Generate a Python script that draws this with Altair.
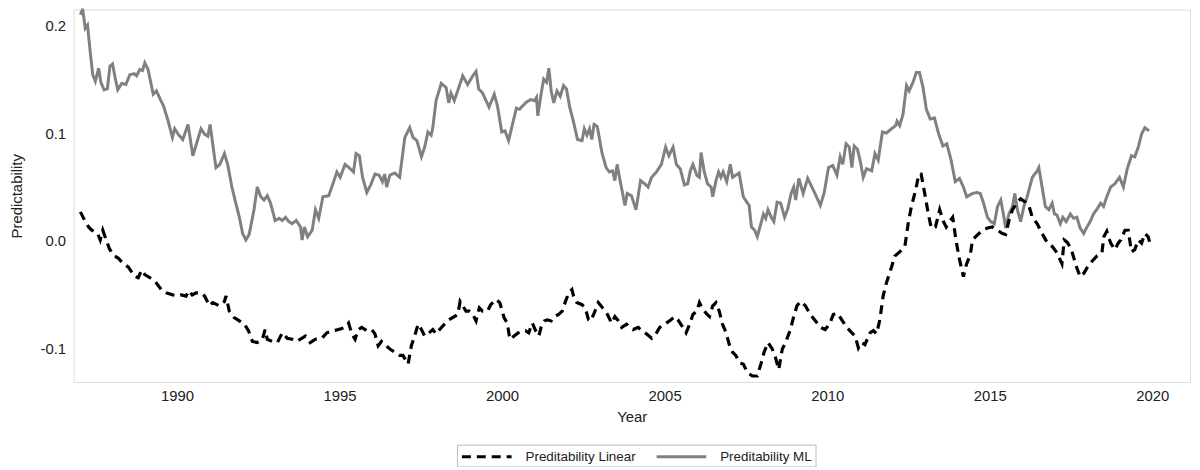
import altair as alt
import pandas as pd

# ---- data ----
ml_year = [1987.03, 1987.10, 1987.18, 1987.25, 1987.33, 1987.41, 1987.49, 1987.59, 1987.66, 1987.76,
           1987.86, 1987.94, 1988.02, 1988.10, 1988.18, 1988.30, 1988.43, 1988.55, 1988.68, 1988.76,
           1988.86, 1988.94, 1989.01, 1989.11, 1989.27, 1989.37, 1989.49, 1989.59, 1989.73, 1989.86,
           1989.93, 1990.06, 1990.18, 1990.34, 1990.49, 1990.64, 1990.74, 1990.85, 1990.95, 1991.02,
           1991.10, 1991.20, 1991.32, 1991.46, 1991.56, 1991.69, 1991.81, 1991.92, 1992.02, 1992.12,
           1992.22, 1992.37, 1992.47, 1992.58, 1992.68, 1992.78, 1992.88, 1993.02, 1993.14, 1993.24,
           1993.34, 1993.44, 1993.54, 1993.67, 1993.80, 1993.85, 1993.92, 1994.02, 1994.16, 1994.26,
           1994.36, 1994.49, 1994.67, 1994.82, 1994.92, 1995.02, 1995.17, 1995.33, 1995.43, 1995.51,
           1995.61, 1995.71, 1995.84, 1995.96, 1996.09, 1996.22, 1996.32, 1996.39, 1996.45, 1996.55,
           1996.70, 1996.85, 1997.01, 1997.16, 1997.26, 1997.38, 1997.52, 1997.62, 1997.72, 1997.82,
           1997.87, 1997.97, 1998.13, 1998.28, 1998.36, 1998.43, 1998.53, 1998.69, 1998.79, 1998.94,
           1999.10, 1999.20, 1999.28, 1999.40, 1999.60, 1999.76, 1999.86, 1999.99, 2000.09, 2000.20,
           2000.32, 2000.44, 2000.54, 2000.72, 2000.88, 2001.00, 2001.06, 2001.10, 2001.20, 2001.28,
           2001.37, 2001.44, 2001.51, 2001.59, 2001.69, 2001.79, 2001.89, 2001.98, 2002.08, 2002.20,
           2002.32, 2002.46, 2002.53, 2002.61, 2002.69, 2002.76, 2002.83, 2002.93, 2003.07, 2003.20,
           2003.30, 2003.40, 2003.47, 2003.54, 2003.63, 2003.78, 2003.85, 2003.98, 2004.12, 2004.26,
           2004.39, 2004.49, 2004.60, 2004.75, 2004.90, 2005.03, 2005.13, 2005.26, 2005.36, 2005.48,
           2005.61, 2005.71, 2005.79, 2005.87, 2005.99, 2006.07, 2006.12, 2006.22, 2006.32, 2006.43,
           2006.48, 2006.58, 2006.66, 2006.73, 2006.80, 2006.91, 2007.02, 2007.09, 2007.19, 2007.29,
           2007.42, 2007.55, 2007.60, 2007.67, 2007.77, 2007.85, 2007.96, 2008.04, 2008.11, 2008.18,
           2008.28, 2008.36, 2008.46, 2008.57, 2008.69, 2008.79, 2008.89, 2008.97, 2009.03, 2009.13,
           2009.26, 2009.40, 2009.53, 2009.67, 2009.79, 2009.91, 2010.04, 2010.17, 2010.30, 2010.40,
           2010.48, 2010.58, 2010.68, 2010.76, 2010.83, 2010.93, 2011.01, 2011.11, 2011.21, 2011.37,
           2011.47, 2011.57, 2011.70, 2011.82, 2011.98, 2012.11, 2012.15, 2012.23, 2012.33, 2012.44,
           2012.52, 2012.64, 2012.74, 2012.84, 2012.95, 2013.05, 2013.17, 2013.30, 2013.43, 2013.56,
           2013.68, 2013.81, 2013.94, 2014.07, 2014.19, 2014.29, 2014.47, 2014.60, 2014.71, 2014.81,
           2014.93, 2015.03, 2015.14, 2015.24, 2015.34, 2015.42, 2015.49, 2015.59, 2015.70, 2015.77,
           2015.85, 2015.95, 2016.05, 2016.15, 2016.31, 2016.46, 2016.51, 2016.61, 2016.71, 2016.82,
           2016.92, 2016.99, 2017.07, 2017.17, 2017.25, 2017.35, 2017.48, 2017.58, 2017.68, 2017.78,
           2017.89, 2017.99, 2018.09, 2018.19, 2018.31, 2018.41, 2018.50, 2018.60, 2018.72, 2018.85,
           2018.99, 2019.11, 2019.23, 2019.36, 2019.46, 2019.57, 2019.67, 2019.77, 2019.90]
ml_value = [0.2095, 0.215, 0.197, 0.200, 0.176, 0.154, 0.148, 0.160, 0.147, 0.140,
            0.141, 0.162, 0.164, 0.151, 0.140, 0.146, 0.145, 0.154, 0.155, 0.153,
            0.159, 0.158, 0.165, 0.159, 0.136, 0.139, 0.131, 0.125, 0.111, 0.096,
            0.104, 0.098, 0.094, 0.108, 0.079, 0.094, 0.104, 0.099, 0.097, 0.108,
            0.090, 0.068, 0.071, 0.081, 0.071, 0.050, 0.035, 0.022, 0.007, 0.001,
            0.006, 0.029, 0.050, 0.041, 0.038, 0.042, 0.035, 0.019, 0.021, 0.019,
            0.022, 0.018, 0.016, 0.019, 0.013, 0.001, 0.013, 0.004, 0.010, 0.029,
            0.021, 0.041, 0.042, 0.055, 0.064, 0.059, 0.071, 0.067, 0.064, 0.081,
            0.079, 0.059, 0.045, 0.052, 0.062, 0.061, 0.055, 0.062, 0.050, 0.061,
            0.063, 0.059, 0.096, 0.105, 0.096, 0.093, 0.078, 0.087, 0.101, 0.098,
            0.105, 0.130, 0.146, 0.142, 0.128, 0.137, 0.130, 0.144, 0.153, 0.145,
            0.153, 0.157, 0.141, 0.137, 0.124, 0.136, 0.125, 0.101, 0.102, 0.093,
            0.108, 0.123, 0.122, 0.128, 0.131, 0.130, 0.133, 0.116, 0.136, 0.150,
            0.147, 0.160, 0.139, 0.128, 0.139, 0.134, 0.144, 0.141, 0.124, 0.110,
            0.094, 0.093, 0.104, 0.098, 0.104, 0.094, 0.108, 0.106, 0.082, 0.068,
            0.064, 0.065, 0.056, 0.071, 0.056, 0.033, 0.044, 0.042, 0.029, 0.056,
            0.053, 0.050, 0.059, 0.064, 0.071, 0.087, 0.079, 0.087, 0.071, 0.067,
            0.052, 0.053, 0.065, 0.071, 0.061, 0.059, 0.082, 0.064, 0.053, 0.050,
            0.041, 0.056, 0.064, 0.059, 0.064, 0.055, 0.071, 0.059, 0.061, 0.063,
            0.041, 0.035, 0.033, 0.013, 0.010, 0.004, 0.016, 0.025, 0.021, 0.029,
            0.022, 0.018, 0.036, 0.035, 0.022, 0.030, 0.044, 0.050, 0.038, 0.058,
            0.044, 0.058, 0.050, 0.041, 0.033, 0.045, 0.068, 0.070, 0.061, 0.078,
            0.071, 0.090, 0.087, 0.068, 0.088, 0.085, 0.075, 0.059, 0.067, 0.065,
            0.081, 0.075, 0.101, 0.100, 0.104, 0.107, 0.111, 0.107, 0.117, 0.144,
            0.139, 0.147, 0.156, 0.156, 0.142, 0.122, 0.113, 0.114, 0.099, 0.088,
            0.090, 0.075, 0.055, 0.058, 0.050, 0.041, 0.044, 0.045, 0.044, 0.035,
            0.022, 0.018, 0.016, 0.032, 0.038, 0.025, 0.012, 0.025, 0.032, 0.044,
            0.029, 0.018, 0.032, 0.041, 0.059, 0.065, 0.068, 0.050, 0.032, 0.029,
            0.035, 0.025, 0.024, 0.016, 0.022, 0.018, 0.025, 0.021, 0.022, 0.012,
            0.007, 0.013, 0.018, 0.025, 0.030, 0.035, 0.032, 0.041, 0.050, 0.053,
            0.059, 0.050, 0.067, 0.079, 0.078, 0.087, 0.099, 0.105, 0.102]

lin_year = [1987.03, 1987.13, 1987.28, 1987.38, 1987.56, 1987.64, 1987.72, 1987.79, 1987.92, 1988.04,
            1988.20, 1988.35, 1988.50, 1988.71, 1988.81, 1988.91, 1989.01, 1989.17, 1989.32, 1989.52,
            1989.67, 1989.88, 1990.03, 1990.13, 1990.28, 1990.37, 1990.47, 1990.59, 1990.74, 1990.85,
            1991.00, 1991.10, 1991.30, 1991.46, 1991.51, 1991.61, 1991.76, 1991.92, 1992.07, 1992.20,
            1992.32, 1992.47, 1992.63, 1992.71, 1992.78, 1992.93, 1993.09, 1993.24, 1993.39, 1993.54,
            1993.67, 1993.85, 1993.95, 1994.10, 1994.26, 1994.46, 1994.61, 1994.82, 1994.97, 1995.17,
            1995.28, 1995.38, 1995.48, 1995.58, 1995.68, 1995.84, 1995.99, 1996.09, 1996.19, 1996.29,
            1996.43, 1996.55, 1996.70, 1996.85, 1996.95, 1997.11, 1997.21, 1997.31, 1997.42, 1997.52,
            1997.62, 1997.72, 1997.87, 1997.97, 1998.08, 1998.23, 1998.36, 1998.48, 1998.64, 1998.71,
            1998.79, 1998.89, 1998.99, 1999.10, 1999.20, 1999.30, 1999.40, 1999.55, 1999.65, 1999.81,
            1999.93, 2000.06, 2000.16, 2000.24, 2000.37, 2000.50, 2000.72, 2000.82, 2000.93, 2001.03,
            2001.13, 2001.20, 2001.30, 2001.39, 2001.51, 2001.61, 2001.74, 2001.85, 2001.95, 2002.05,
            2002.15, 2002.20, 2002.30, 2002.46, 2002.56, 2002.66, 2002.73, 2002.83, 2002.96, 2003.12,
            2003.24, 2003.37, 2003.47, 2003.58, 2003.68, 2003.83, 2004.03, 2004.19, 2004.29, 2004.44,
            2004.60, 2004.75, 2004.85, 2005.00, 2005.15, 2005.31, 2005.41, 2005.56, 2005.66, 2005.77,
            2005.87, 2005.99, 2006.07, 2006.17, 2006.28, 2006.38, 2006.48, 2006.58, 2006.68, 2006.78,
            2006.89, 2006.99, 2007.09, 2007.19, 2007.31, 2007.42, 2007.55, 2007.70, 2007.85, 2007.96,
            2008.06, 2008.18, 2008.31, 2008.41, 2008.51, 2008.62, 2008.72, 2008.87, 2008.97, 2009.07,
            2009.18, 2009.33, 2009.48, 2009.64, 2009.79, 2009.94, 2010.07, 2010.19, 2010.32, 2010.45,
            2010.60, 2010.76, 2010.86, 2010.96, 2011.06, 2011.16, 2011.32, 2011.42, 2011.52, 2011.62,
            2011.72, 2011.82, 2011.98, 2012.08, 2012.23, 2012.39, 2012.49, 2012.59, 2012.72, 2012.82,
            2012.89, 2013.00, 2013.10, 2013.20, 2013.33, 2013.46, 2013.56, 2013.66, 2013.76, 2013.86,
            2013.96, 2014.07, 2014.19, 2014.29, 2014.40, 2014.47, 2014.63, 2014.78, 2014.93, 2015.08,
            2015.24, 2015.39, 2015.49, 2015.59, 2015.70, 2015.85, 2015.95, 2016.10, 2016.21, 2016.31,
            2016.46, 2016.61, 2016.76, 2016.92, 2017.07, 2017.22, 2017.29, 2017.38, 2017.50, 2017.60,
            2017.68, 2017.78, 2017.89, 2018.01, 2018.14, 2018.29, 2018.45, 2018.51, 2018.60, 2018.72,
            2018.85, 2018.95, 2019.03, 2019.16, 2019.26, 2019.36, 2019.46, 2019.57, 2019.67, 2019.77,
            2019.87, 2019.92]
lin_value = [0.027, 0.021, 0.013, 0.010, 0.007, 0.001, 0.010, 0.004, -0.007, -0.013,
             -0.016, -0.021, -0.024, -0.033, -0.034, -0.027, -0.031, -0.034, -0.037, -0.045,
             -0.048, -0.050, -0.051, -0.050, -0.051, -0.046, -0.050, -0.048, -0.048, -0.051,
             -0.060, -0.057, -0.060, -0.056, -0.051, -0.065, -0.071, -0.074, -0.077, -0.083,
             -0.093, -0.094, -0.091, -0.082, -0.091, -0.093, -0.094, -0.085, -0.090, -0.091,
             -0.093, -0.090, -0.088, -0.094, -0.091, -0.090, -0.085, -0.083, -0.082, -0.080,
             -0.076, -0.086, -0.091, -0.082, -0.080, -0.083, -0.082, -0.086, -0.097, -0.093,
             -0.097, -0.100, -0.103, -0.106, -0.106, -0.114, -0.097, -0.088, -0.077, -0.082,
             -0.088, -0.086, -0.082, -0.086, -0.082, -0.077, -0.073, -0.071, -0.068, -0.056,
             -0.060, -0.065, -0.065, -0.068, -0.074, -0.062, -0.065, -0.065, -0.059, -0.054,
             -0.057, -0.071, -0.076, -0.091, -0.088, -0.085, -0.083, -0.085, -0.076, -0.083,
             -0.088, -0.080, -0.074, -0.073, -0.074, -0.070, -0.068, -0.065, -0.056, -0.048,
             -0.045, -0.051, -0.057, -0.059, -0.062, -0.073, -0.074, -0.067, -0.057, -0.063,
             -0.068, -0.076, -0.070, -0.074, -0.080, -0.077, -0.082, -0.080, -0.083, -0.086,
             -0.090, -0.085, -0.080, -0.077, -0.074, -0.070, -0.073, -0.080, -0.085, -0.077,
             -0.068, -0.065, -0.057, -0.063, -0.067, -0.070, -0.060, -0.057, -0.065, -0.077,
             -0.085, -0.096, -0.103, -0.106, -0.113, -0.114, -0.122, -0.125, -0.125, -0.114,
             -0.103, -0.094, -0.100, -0.108, -0.119, -0.100, -0.094, -0.082, -0.070, -0.060,
             -0.056, -0.060, -0.068, -0.074, -0.080, -0.082, -0.077, -0.068, -0.067, -0.073,
             -0.080, -0.085, -0.088, -0.099, -0.094, -0.096, -0.085, -0.083, -0.086, -0.073,
             -0.051, -0.039, -0.024, -0.014, -0.010, -0.005, 0.016, 0.032, 0.047, 0.062,
             0.062, 0.044, 0.027, 0.012, 0.013, 0.029, 0.019, 0.013, 0.018, 0.022,
             0.001, -0.017, -0.033, -0.021, -0.013, 0.001, 0.006, 0.010, 0.012, 0.013,
             0.010, 0.007, 0.006, 0.019, 0.029, 0.036, 0.039, 0.036, 0.032, 0.022,
             0.016, 0.007, -0.001, -0.005, -0.011, -0.021, 0.001, -0.001, -0.007, -0.017,
             -0.025, -0.033, -0.030, -0.024, -0.019, -0.014, -0.011, 0.004, 0.009, -0.002,
             -0.008, -0.002, 0.001, 0.010, 0.010, -0.010, -0.008, 0.001, -0.002, 0.007,
             0.004, -0.001]

series_names = ["Preditability Linear", "Preditability ML"]
series_colors = ["#000000", "#808080"]
series_dashes = [[9, 6], [1, 0]]
x_ticks = [1990, 1995, 2000, 2005, 2010, 2015, 2020]
y_ticks = [-0.1, 0.0, 0.1, 0.2]

df_ml = pd.DataFrame({"year": ml_year, "value": ml_value, "series": series_names[1]})
df_lin = pd.DataFrame({"year": lin_year, "value": lin_value, "series": series_names[0]})

FONT = "Liberation Sans"

x_enc = alt.X(
    "year:Q",
    scale=alt.Scale(domain=[1986.82, 2021.16], nice=False, zero=False),
    axis=alt.Axis(values=x_ticks, format="d", title="Year", grid=False, ticks=False,
                  tickSize=0, domain=False, labelPadding=7, titlePadding=6,
                  labelFontSize=15, titleFontSize=15, titleFontWeight="normal",
                  labelColor="#222222", titleColor="#222222", labelFont=FONT, titleFont=FONT),
)
y_enc = alt.Y(
    "value:Q",
    scale=alt.Scale(domain=[-0.1306, 0.2144], nice=False, zero=False),
    axis=alt.Axis(values=y_ticks, labelExpr="replace(format(datum.value, '.1f'), '\u2212', '-')",
                  title="Predictability", grid=False, ticks=False, tickSize=0, domain=False,
                  labelPadding=8, labelFontSize=15, titleFontSize=15, titleFontWeight="normal",
                  titleX=-57, titleBaseline="middle",
                  labelColor="#222222", titleColor="#222222", labelFont=FONT, titleFont=FONT),
)


def make_legend():
    # wide, flat custom stroke symbol: 50px long line within a compact row
    return alt.Legend(title=None, orient="none", legendX=386, legendY=438, direction="horizontal",
                      symbolType="M-1,0L6.14,0", symbolSize=196, symbolStrokeWidth=3.2,
                      symbolFillColor="transparent",
                      labelFontSize=13.5, labelFont=FONT, labelColor="#222222", labelOffset=48,
                      columnPadding=13, padding=3, strokeColor="#bbbbbb", fillColor="white")


color_enc = alt.Color("series:N", scale=alt.Scale(domain=series_names, range=series_colors),
                      legend=make_legend())
dash_enc = alt.StrokeDash("series:N", scale=alt.Scale(domain=series_names, range=series_dashes),
                          legend=make_legend())

ml_line = alt.Chart(df_ml).mark_line(strokeWidth=3).encode(
    x=x_enc, y=y_enc, color=color_enc, strokeDash=dash_enc)
lin_line = alt.Chart(df_lin).mark_line(strokeWidth=3.2).encode(
    x=x_enc, y=y_enc, color=color_enc, strokeDash=dash_enc)

chart = alt.layer(ml_line, lin_line).properties(
    width=1124, height=375,
    autosize=alt.AutoSizeParams(type="none"),
    padding={"left": 66, "top": 0, "right": 2, "bottom": 84},
).configure_view(
    stroke="#bdbdbd", strokeWidth=1.5
).configure(font=FONT, background="white")

chart.save("out.html", embed_options={"renderer": "svg", "actions": False})
